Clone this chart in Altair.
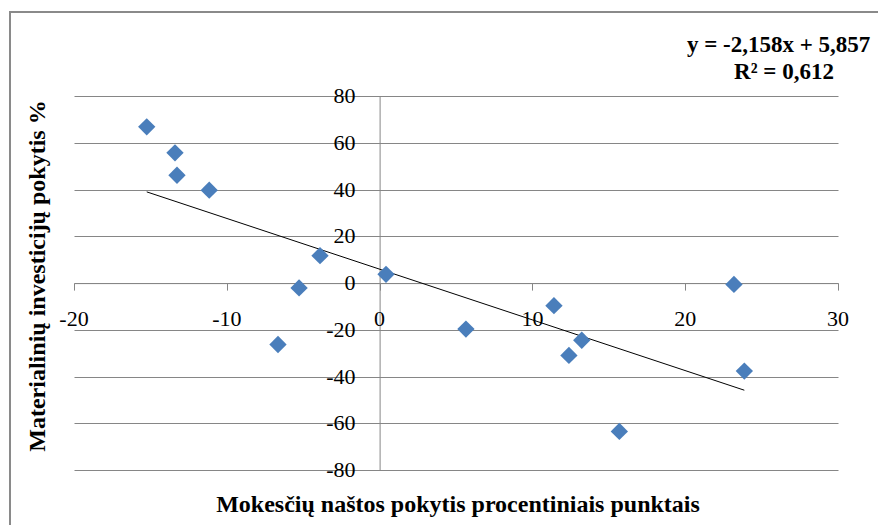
import altair as alt
import pandas as pd

# Data
tax_change = [-15.24, -13.39, -13.26, -11.15, -3.90, -5.27, -6.65, 0.42,
              5.65, 11.41, 12.39, 13.23, 15.69, 23.19, 23.87]
invest_change = [66.8, 55.7, 46.1, 39.7, 11.7, -2.1, -26.3, 3.7,
                 -19.7, -9.7, -31.0, -24.5, -63.5, -0.6, -37.7]

x_ticks = [-20, -10, 0, 10, 20, 30]
y_ticks = [-80, -60, -40, -20, 0, 20, 40, 60, 80]

x_title = "Mokesčių naštos pokytis procentiniais punktais"
y_title = "Materialinių investicijų pokytis %"
eq_line1 = "y = -2,158x + 5,857"
eq_line2 = "R² = 0,612"

df = pd.DataFrame({"x": tax_change, "y": invest_change})
xlab = pd.DataFrame({"v": x_ticks, "t": [str(v) for v in x_ticks], "z": 0})
ylab = pd.DataFrame({"v": y_ticks, "t": [str(v) for v in y_ticks], "z": 0})

W, H = 764, 374
FONT = "Liberation Serif"
GRID = "#868686"
BLUE = "#4A7EBB"

xscale = alt.Scale(domain=[-20, 30], nice=False, zero=False)
yscale = alt.Scale(domain=[-80, 80], nice=False, zero=False)

base = alt.Chart(df)

points = base.mark_point(shape="diamond", filled=True, size=300, color=BLUE, opacity=1).encode(
    x=alt.X("x:Q", scale=xscale,
            axis=alt.Axis(values=x_ticks, title=None, grid=False, offset=-186.9,
                          domainColor=GRID, tickColor=GRID, tickSize=7, labels=False)),
    y=alt.Y("y:Q", scale=yscale,
            axis=alt.Axis(values=y_ticks, title=None, grid=True, gridColor=GRID, offset=-305.6,
                          domainColor=GRID, tickColor=GRID, tickSize=5, labels=False)),
)

trend = base.transform_regression("x", "y").mark_line(color="black", strokeWidth=1).encode(
    x=alt.X("x:Q", scale=xscale),
    y=alt.Y("y:Q", scale=yscale),
)

xlabels = alt.Chart(xlab).mark_text(font=FONT, fontSize=22, color="black", align="center",
                                    baseline="middle", dy=36).encode(
    x=alt.X("v:Q", scale=xscale), y=alt.Y("z:Q", scale=yscale), text="t:N"
)
ylabels = alt.Chart(ylab).mark_text(font=FONT, fontSize=22, color="black", align="right",
                                    baseline="middle", dx=-24).encode(
    x=alt.X("z:Q", scale=xscale), y=alt.Y("v:Q", scale=yscale), text="t:N"
)

one = alt.Data(values=[{"a": 1}])

frame = alt.Chart(one).mark_rect(fill=None, stroke="#8a8a8a", strokeWidth=2).encode(
    x=alt.value(-64), x2=alt.value(W + 100), y=alt.value(-84), y2=alt.value(H + 100)
)

xt = alt.Chart(one).mark_text(font=FONT, fontSize=24, fontWeight="bold", color="black",
                               align="center", baseline="middle").encode(
    x=alt.value(384), y=alt.value(409), text=alt.value(x_title)
)

yt = alt.Chart(one).mark_text(font=FONT, fontSize=24, fontWeight="bold", color="black",
                               align="center", baseline="middle", angle=270).encode(
    x=alt.value(-36), y=alt.value(180), text=alt.value(y_title)
)

eq1 = alt.Chart(one).mark_text(font=FONT, fontSize=23, fontWeight="bold", color="black",
                                align="left", baseline="middle").encode(
    x=alt.value(613), y=alt.value(-51), text=alt.value(eq_line1)
)
eq2 = alt.Chart(one).mark_text(font=FONT, fontSize=23, fontWeight="bold", color="black",
                                align="center", baseline="middle").encode(
    x=alt.value(710), y=alt.value(-24), text=alt.value(eq_line2)
)

chart = alt.layer(frame, trend, points, xlabels, ylabels, xt, yt, eq1, eq2).properties(
    width=W, height=H,
    autosize=alt.AutoSizeParams(type="none"),
    padding={"left": 74, "top": 96, "right": 40, "bottom": 55},
    background="white",
).configure_view(stroke=None)

chart.save("out.html", embed_options={"renderer": "svg", "actions": False})
